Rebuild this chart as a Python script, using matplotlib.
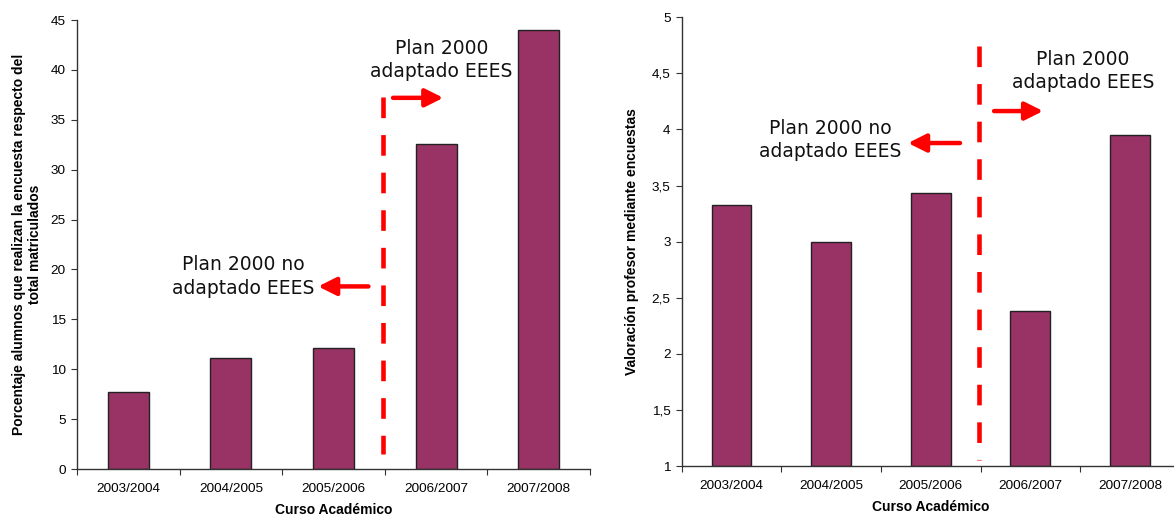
import matplotlib.pyplot as plt
import numpy as np

# data
cursos = ['2003/2004', '2004/2005', '2005/2006', '2006/2007', '2007/2008']
porcentaje = [7.75, 11.1, 12.1, 32.6, 44.0]
valoracion = [3.33, 3.0, 3.43, 2.38, 3.95]

bar_color = '#993366'
plt.rcParams['font.family'] = ['Liberation Sans', 'DejaVu Sans']

fig = plt.figure(figsize=(11.74, 5.17), dpi=100)
ax1 = fig.add_axes([0.0656, 0.0928, 0.437, 0.8685])
ax2 = fig.add_axes([0.5807, 0.0986, 0.4242, 0.868])


def style_axes(ax, ymin, ymax, step, fmt, xlabelpad):
    x = np.arange(len(cursos))
    ax.set_xlim(-0.5, len(cursos) - 0.5)
    ax.set_ylim(ymin, ymax)
    ax.spines['top'].set_visible(False)
    ax.spines['right'].set_visible(False)
    for s in ['left', 'bottom']:
        ax.spines[s].set_linewidth(1)
        ax.spines[s].set_color('#333333')
    # ticks at category boundaries, labels at centres
    ax.set_xticks(np.arange(len(cursos) + 1) - 0.5)
    ax.set_xticklabels([])
    ax.set_xticks(x, minor=True)
    ax.set_xticklabels(cursos, minor=True, fontsize=9.7)
    ax.tick_params(axis='x', which='minor', length=0, pad=10)
    ax.tick_params(axis='x', which='major', length=4, direction='out', color='#333333')
    yt = np.arange(ymin, ymax + step / 2, step)
    ax.set_yticks(yt)
    ax.set_yticklabels([fmt(v) for v in yt], fontsize=9.7)
    ax.tick_params(axis='y', length=4, direction='out', color='#333333', pad=4)
    ax.set_xlabel('Curso Académico', fontsize=10, fontweight='bold', labelpad=xlabelpad)


def red_arrow(ax, x0, x1, y):
    ax.annotate('', xy=(x1, y), xytext=(x0, y),
                arrowprops=dict(arrowstyle='-|>,head_length=0.9,head_width=0.45',
                                color='red', lw=3.2, mutation_scale=12,
                                shrinkA=0, shrinkB=0))


def note(ax, x, y, s):
    ax.text(x, y, s, ha='center', va='center', fontsize=13.5,
            family='DejaVu Sans', color='#111111', linespacing=1.3)


dash = (0, (4.5, 3.7))

# left chart
ax1.bar(np.arange(len(cursos)), porcentaje, width=0.4, color=bar_color,
        edgecolor='#222222', linewidth=1)
style_axes(ax1, 0, 45, 5, lambda v: f'{v:g}', 5.5)
ax1.set_ylabel('Porcentaje alumnos que realizan la encuesta respecto del\ntotal matriculados',
               fontsize=10, fontweight='bold', labelpad=6)
ax1.plot([2.48, 2.48], [37.3, 1.5], color='red', lw=3.3, linestyle=dash)
red_arrow(ax1, 2.58, 3.07, 37.2)
red_arrow(ax1, 2.34, 1.85, 18.3)
note(ax1, 1.12, 19.3, 'Plan 2000 no\nadaptado EEES')
note(ax1, 3.05, 41.0, 'Plan 2000\nadaptado EEES')

# right chart
ax2.bar(np.arange(len(cursos)), [v - 1 for v in valoracion], bottom=1, width=0.4,
        color=bar_color, edgecolor='#222222', linewidth=1)
style_axes(ax2, 1, 5, 0.5, lambda v: f'{v:g}'.replace('.', ','), 6)
ax2.set_ylabel('Valoración profesor mediante encuestas', fontsize=10,
               fontweight='bold', labelpad=9)
ax2.plot([2.488, 2.488], [4.74, 1.05], color='red', lw=3.3, linestyle=dash)
red_arrow(ax2, 2.636, 3.128, 4.164)
red_arrow(ax2, 2.294, 1.772, 3.879)
note(ax2, 3.53, 4.52, 'Plan 2000\nadaptado EEES')
note(ax2, 0.99, 3.905, 'Plan 2000 no\nadaptado EEES')

fig.savefig('out.png', dpi=100)
